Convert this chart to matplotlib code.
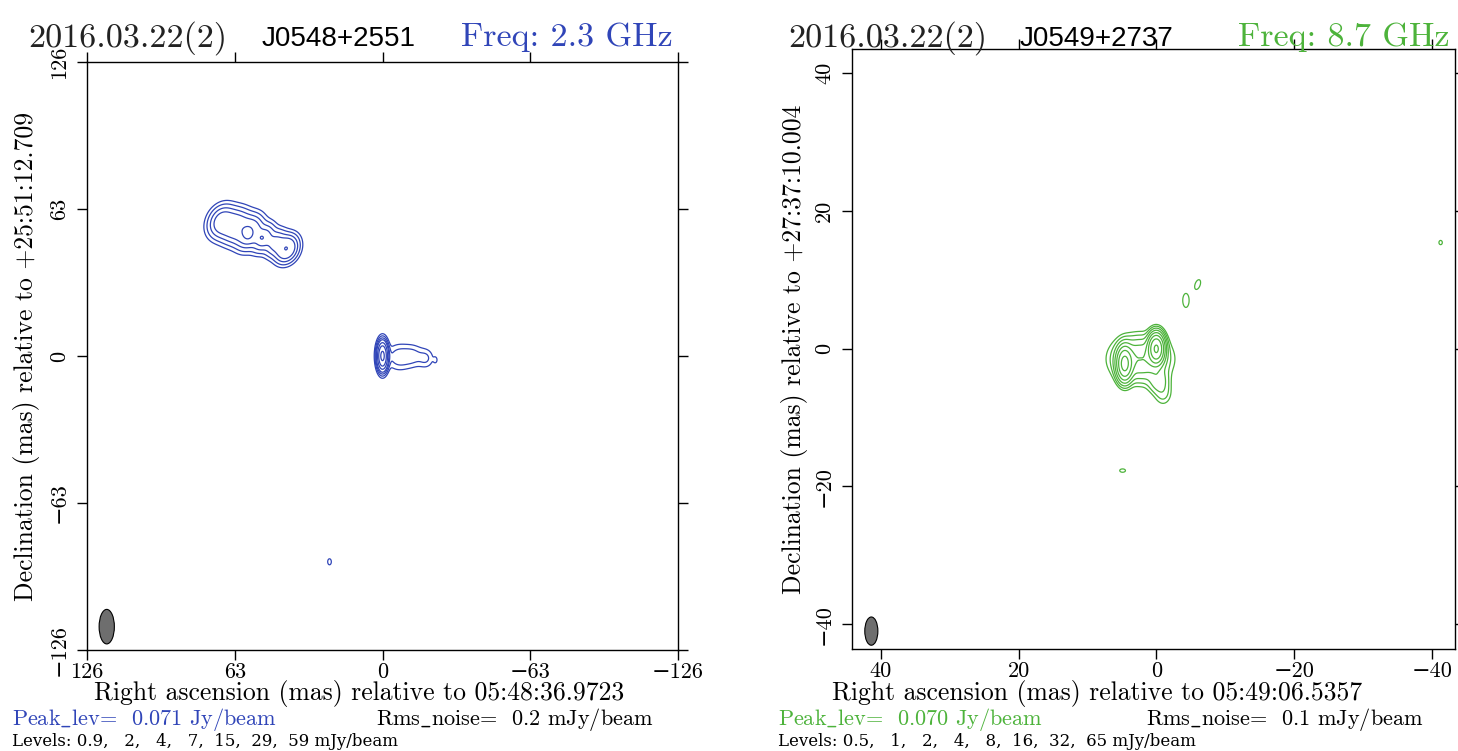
import numpy as np
import matplotlib
matplotlib.use('Agg')
import matplotlib.pyplot as plt
from matplotlib.patches import Ellipse

plt.rcParams['font.family'] = ['cmr10', 'DejaVu Serif']
plt.rcParams['mathtext.fontset'] = 'cm'

BLUE = '#3045b8'
GREEN = '#4db33b'

# ---- left map: J0548+2551, 2.3 GHz (mas, mJy/beam) ----
l_levels = [0.9, 2, 4, 7, 15, 29, 59]
# core + jet, then the north-east knot chain, then the southern spot
l_ra = [0.0, -7.0, -13.0, -18.5, -22.6,
        68.5, 62.5, 56.5, 50.5, 46.0, 41.0, 57.5, 51.5,
        22.6]
l_dec = [0.0, -0.5, 0.0, -1.0, -1.7,
         57.5, 55.5, 53.0, 50.5, 48.5, 46.0, 52.5, 50.7,
         -88.2]
l_peak = [71.0, 3.0, 2.4, 2.1, 1.2,
          11.0, 11.0, 13.0, 9.0, 7.0, 15.0, 10.0, 7.0,
          1.5]
l_fx = [2.8, 8.0, 7.0, 5.0, 1.5,
        7.5, 7.5, 7.0, 5.0, 5.0, 6.5, 3.0, 1.6,
        1.8]
l_fy = [7.6, 8.0, 7.0, 6.0, 2.5,
        10.0, 10.5, 10.5, 9.0, 8.5, 8.5, 3.8, 1.6,
        3.0]
l_ang = [0, 0, 0, 0, 0,
         27, 27, 27, 27, 27, 27, 0, 0,
         0]
l_ticks = [126, 63, 0, -63, -126]
l_beam = (117.6, -116.0, 6.5, 14.8)

# ---- right map: J0549+2737, 8.7 GHz ----
r_levels = [0.5, 1, 2, 4, 8, 16, 32, 65]
r_ra = [0.0, 4.6, 2.3, -0.3, -1.0, -4.3, -6.0, -41.3, 4.9]
r_dec = [0.0, -2.2, -1.5, -4.7, -6.5, 7.0, 9.3, 15.4, -17.7]
r_peak = [70.0, 40.0, 8.0, 3.0, 1.2, 0.9, 0.8, 0.65, 0.7]
r_fx = [1.4, 1.4, 5.0, 2.0, 1.8, 1.0, 0.9, 0.8, 1.2]
r_fy = [2.6, 3.0, 4.0, 2.5, 2.5, 2.2, 1.8, 1.0, 0.7]
r_ang = [0, 0, 0, 0, 0, 0, 20, 0, 0]
r_ticks = [40, 20, 0, -20, -40]
r_beam = (41.4, -41.0, 1.9, 4.1)


def make_map(x, y, ra, dec, peak, fx, fy, ang):
    X, Y = np.meshgrid(x, y)
    Z = np.zeros_like(X)
    for x0, y0, a, wx, wy, t in zip(ra, dec, peak, fx, fy, ang):
        t = np.radians(t)
        dx, dy = X - x0, Y - y0
        u = dx * np.cos(t) + dy * np.sin(t)
        v = -dx * np.sin(t) + dy * np.cos(t)
        sx, sy = wx / 2.3548, wy / 2.3548
        Z += a * np.exp(-0.5 * (u ** 2 / sx ** 2 + v ** 2 / sy ** 2))
    return X, Y, Z


def lab(v):
    return str(v).replace('-', '\u2212')


def style_axes(ax, ticks):
    ax.set_xticks(ticks)
    ax.set_yticks(ticks)
    ax.set_xticklabels([lab(t) for t in ticks], fontsize=16)
    ax.set_yticklabels([lab(t) for t in ticks], fontsize=16, rotation=90, va='center')
    ax.tick_params(axis='x', direction='out', length=7, width=1, pad=2,
                   top=True)
    ax.tick_params(axis='y', direction='out', length=7, width=1, pad=6,
                   right=True)
    for s in ax.spines.values():
        s.set_linewidth(1.0)


fig = plt.figure(figsize=(14.58, 7.51), dpi=100)

# left panel
ax1 = fig.add_axes([0.0597, 0.1345, 0.4053, 0.783])
x = np.linspace(126, -126, 1300)
X, Y, Z = make_map(x, x[::-1], l_ra, l_dec, l_peak, l_fx, l_fy, l_ang)
ax1.contour(X, Y, Z, levels=l_levels, colors=BLUE, linewidths=0.9)
ax1.add_patch(Ellipse((l_beam[0], l_beam[1]), l_beam[2], l_beam[3],
                      facecolor='#6e6e6e', edgecolor='black', lw=0.8))
ax1.set_xlim(126, -126)
ax1.set_ylim(-126, 126)
style_axes(ax1, l_ticks)

# right panel
ax2 = fig.add_axes([0.5844, 0.1358, 0.4136, 0.799])
x = np.linspace(44.2, -43.4, 1100)
y = np.linspace(-43.6, 43.5, 1100)
X, Y, Z = make_map(x, y, r_ra, r_dec, r_peak, r_fx, r_fy, r_ang)
ax2.contour(X, Y, Z, levels=r_levels, colors=GREEN, linewidths=0.9)
ax2.add_patch(Ellipse((r_beam[0], r_beam[1]), r_beam[2], r_beam[3],
                      facecolor='#6e6e6e', edgecolor='black', lw=0.8))
ax2.set_xlim(44.2, -43.4)
ax2.set_ylim(-43.6, 43.5)
style_axes(ax2, r_ticks)

# titles
fig.text(0.0192, 0.9387, '2016.03.22(2)', fontsize=24.5, color='#222222')
fig.text(0.1797, 0.9387, 'J0548+2551', fontsize=20, family='Liberation Sans', color='black')
fig.text(0.4616, 0.9387, 'Freq: 2.3 GHz', fontsize=24.5, color=BLUE, ha='right')
fig.text(0.5405, 0.9387, '2016.03.22(2)', fontsize=24.5, color='#222222')
fig.text(0.6996, 0.9387, 'J0549+2737', fontsize=20, family='Liberation Sans', color='black')
fig.text(0.9945, 0.9387, 'Freq: 8.7 GHz', fontsize=24.5, color=GREEN, ha='right')

# axis labels
fig.text(0.0185, 0.526, 'Declination (mas) relative to +25:51:12.709',
         fontsize=18.5, rotation=90, ha='center', va='center')
fig.text(0.545, 0.535, 'Declination (mas) relative to +27:37:10.004',
         fontsize=18.5, rotation=90, ha='center', va='center')
fig.text(0.246, 0.068, 'Right ascension (mas) relative to 05:48:36.9723',
         fontsize=18.5, ha='center')
fig.text(0.7525, 0.068, 'Right ascension (mas) relative to 05:49:06.5357',
         fontsize=18.5, ha='center')

# footer
fig.text(0.0082, 0.035, r'$\mathrm{Peak\_lev}$=  0.071 Jy/beam', fontsize=16, color=BLUE)
fig.text(0.258, 0.035, r'$\mathrm{Rms\_noise}$=  0.2 mJy/beam', fontsize=16)
fig.text(0.0082, 0.007, 'Levels: 0.9,   2,   4,   7,  15,  29,  59 mJy/beam',
         fontsize=12, family='DejaVu Serif')
fig.text(0.5336, 0.035, r'$\mathrm{Peak\_lev}$=  0.070 Jy/beam', fontsize=16, color=GREEN)
fig.text(0.786, 0.035, r'$\mathrm{Rms\_noise}$=  0.1 mJy/beam', fontsize=16)
fig.text(0.5336, 0.007, 'Levels: 0.5,   1,   2,   4,   8,  16,  32,  65 mJy/beam',
         fontsize=12, family='DejaVu Serif')

fig.savefig('out.png', dpi=100)
